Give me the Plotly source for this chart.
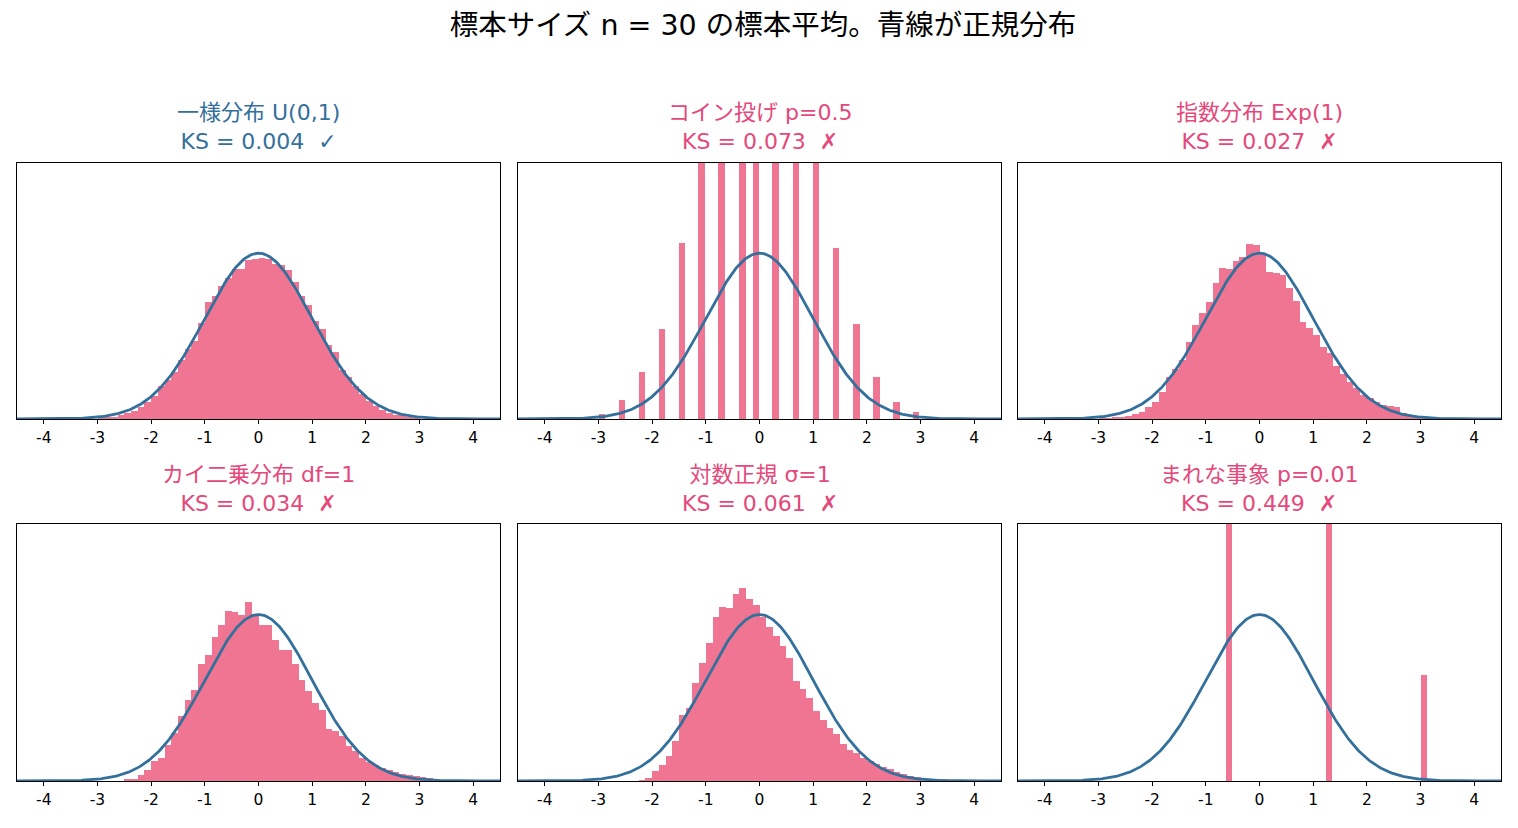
import numpy as np
import plotly.graph_objects as go
from plotly.subplots import make_subplots

# 表示用のラベル
titles = ["一様分布 U(0,1)", "コイン投げ p=0.5", "指数分布 Exp(1)",
          "カイ二乗分布 df=1", "対数正規 σ=1", "まれな事象 p=0.01"]
ks_values = [0.004, 0.073, 0.027, 0.034, 0.061, 0.449]
ks_pass = [True, False, False, False, False, False]
tick_vals = [-4, -3, -2, -1, 0, 1, 2, 3, 4]
tick_labels = ["-4", "-3", "-2", "-1", "0", "1", "2", "3", "4"]

BIN_W = 0.125

# 一様分布の標本平均 (ヒストグラム密度, 左端 -3.0 から)
uniform_start = -3.0
uniform_density = [0.002, 0.003, 0.005, 0.009, 0.014, 0.020, 0.028, 0.040,
                   0.055, 0.080, 0.093, 0.112, 0.143, 0.168, 0.187, 0.232,
                   0.282, 0.295, 0.320, 0.340, 0.362, 0.362, 0.383, 0.386,
                   0.387, 0.385, 0.372, 0.370, 0.358, 0.330, 0.296, 0.275,
                   0.235, 0.217, 0.178, 0.160, 0.118, 0.101, 0.079, 0.060,
                   0.043, 0.032, 0.022, 0.015, 0.010, 0.012, 0.003, 0.002]

# コイン投げ (離散値)
coin_x = [-2.94, -2.56, -2.19, -1.82, -1.44, -1.08, -0.71, -0.32, -0.07,
          0.30, 0.68, 1.05, 1.43, 1.81, 2.18, 2.55, 2.92, 3.30]
coin_density = [0.012, 0.046, 0.114, 0.216, 0.423, 0.66, 0.92, 1.11, 1.19,
                1.11, 0.92, 0.66, 0.411, 0.229, 0.101, 0.041, 0.017, 0.005]

# 指数分布
exp_start = -3.0
exp_density = [0.001, 0.002, 0.003, 0.005, 0.008, 0.012, 0.018, 0.030,
               0.041, 0.066, 0.100, 0.120, 0.142, 0.185, 0.226, 0.254,
               0.281, 0.327, 0.363, 0.360, 0.381, 0.391, 0.421, 0.419,
               0.399, 0.353, 0.351, 0.347, 0.315, 0.283, 0.234, 0.220,
               0.202, 0.174, 0.158, 0.128, 0.108, 0.090, 0.075, 0.058,
               0.050, 0.040, 0.034, 0.032, 0.028, 0.015, 0.010, 0.008,
               0.005, 0.004, 0.002]

# カイ二乗分布 df=1
chi2_start = -2.5
chi2_density = [0.004, 0.006, 0.014, 0.027, 0.047, 0.055, 0.087, 0.115,
                0.155, 0.195, 0.217, 0.280, 0.301, 0.344, 0.374, 0.408,
                0.404, 0.399, 0.429, 0.395, 0.374, 0.374, 0.338, 0.313,
                0.313, 0.280, 0.241, 0.215, 0.187, 0.171, 0.125, 0.119,
                0.107, 0.083, 0.072, 0.055, 0.045, 0.038, 0.032, 0.027,
                0.022, 0.018, 0.015, 0.012, 0.009, 0.007, 0.005, 0.003,
                0.002]

# 対数正規
lognorm_start = -2.25
lognorm_density = [0.002, 0.008, 0.023, 0.039, 0.061, 0.095, 0.159, 0.175,
                   0.234, 0.284, 0.332, 0.393, 0.418, 0.415, 0.449, 0.463,
                   0.437, 0.423, 0.393, 0.368, 0.347, 0.324, 0.294, 0.240,
                   0.220, 0.198, 0.167, 0.147, 0.126, 0.113, 0.088, 0.075,
                   0.067, 0.055, 0.047, 0.040, 0.034, 0.028, 0.022, 0.018,
                   0.012, 0.010, 0.008, 0.006, 0.005, 0.004, 0.003, 0.002,
                   0.001]

# まれな事象 (離散値)
rare_x = [-0.57, 1.30, 3.06]
rare_density = [5.9, 1.79, 0.255]

BLUE = "#33709C"
PINK_BAR = "#F07592"
PINK_TEXT = "#E5487A"


def centers(start, n):
    return start + BIN_W * (np.arange(n) + 0.5)


panels = [
    (centers(uniform_start, len(uniform_density)), uniform_density, BIN_W),
    (coin_x, coin_density, 0.12),
    (centers(exp_start, len(exp_density)), exp_density, BIN_W),
    (centers(chi2_start, len(chi2_density)), chi2_density, BIN_W),
    (centers(lognorm_start, len(lognorm_density)), lognorm_density, BIN_W),
    (rare_x, rare_density, 0.112),
]

fig = make_subplots(rows=2, cols=3)

# 標準正規分布の密度
xs = np.linspace(-4.5, 4.5, 400)
pdf = np.exp(-xs ** 2 / 2) / np.sqrt(2 * np.pi)

for i, (bx, by, bw) in enumerate(panels):
    r, c = i // 3 + 1, i % 3 + 1
    fig.add_trace(go.Bar(x=bx, y=by, width=bw, marker=dict(color=PINK_BAR, line=dict(width=0)),
                         showlegend=False, hoverinfo="skip"), row=r, col=c)
    fig.add_trace(go.Scatter(x=xs, y=pdf, mode="lines", line=dict(color=BLUE, width=2.8),
                             showlegend=False), row=r, col=c)

# サブプロットの位置
x_domains = [[0.0, 0.3255], [0.3376, 0.6631], [0.6745, 1.0]]
y_domains = [[0.5858, 1.0], [0.0, 0.4159]]

for i in range(6):
    r, c = i // 3, i % 3
    sfx = "" if i == 0 else str(i + 1)
    fig.layout["xaxis" + sfx].update(
        domain=x_domains[c], range=[-4.5, 4.5],
        tickvals=tick_vals, ticktext=tick_labels,
        ticks="outside", ticklen=4, tickcolor="black",
        showline=True, mirror=True, linecolor="black", linewidth=1,
        showgrid=False, zeroline=False,
        tickfont=dict(size=15.5, color="black", family="DejaVu Sans"))
    fig.layout["yaxis" + sfx].update(
        domain=y_domains[r], range=[0, 0.616],
        showticklabels=False, ticks="",
        showline=True, mirror=True, linecolor="black", linewidth=1,
        showgrid=False, zeroline=False)

    mark = "✓" if ks_pass[i] else "✗"
    color = BLUE if ks_pass[i] else PINK_TEXT
    fig.add_annotation(
        text=f"{titles[i]}<br>KS = {ks_values[i]:.3f}  {mark}",
        xref="paper", yref="paper",
        x=sum(x_domains[c]) / 2, y=1.059 if r == 0 else 0.4733,
        xanchor="center", yanchor="middle", showarrow=False,
        font=dict(size=22, color=color, family="DejaVu Sans, Noto Sans CJK JP"))

fig.update_layout(
    width=1510, height=820,
    margin=dict(l=9, r=17, t=155, b=47),
    plot_bgcolor="white", paper_bgcolor="white",
    bargap=0,
    title=dict(text="標本サイズ n = 30 の標本平均。青線が正規分布",
               x=0.5, xanchor="center", y=0.979, yanchor="middle",
               font=dict(size=28.5, color="black", family="DejaVu Sans, Noto Sans CJK JP")),
)

fig.write_html("out.html")
